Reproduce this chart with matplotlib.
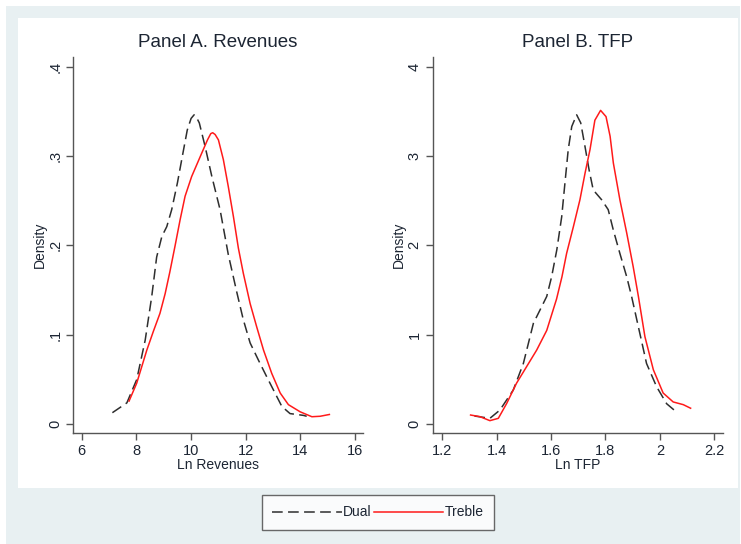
import matplotlib
matplotlib.use("Agg")
import matplotlib.pyplot as plt
from matplotlib.patches import Rectangle
from matplotlib.lines import Line2D

plt.rcParams['font.family'] = ['Liberation Sans', 'DejaVu Sans']

# ---------------- data ----------------
rev_dual_x = [7.12, 7.65, 8.01, 8.32, 8.56, 8.74, 8.93, 9.11, 9.29, 9.50, 9.70, 9.86, 10.00, 10.11,
              10.20, 10.30, 10.51, 10.76, 11.06, 11.36, 11.67, 11.91, 12.16, 12.46, 12.77, 13.07,
              13.32, 13.62, 14.11, 14.23]
rev_dual_y = [0.013, 0.024, 0.050, 0.094, 0.143, 0.187, 0.210, 0.221, 0.240, 0.270, 0.303, 0.329, 0.342, 0.346,
              0.343, 0.337, 0.311, 0.277, 0.240, 0.190, 0.148, 0.117, 0.091, 0.072, 0.053, 0.035,
              0.020, 0.012, 0.010, 0.009]
rev_treble_x = [7.73, 8.01, 8.38, 8.62, 8.86, 9.05, 9.22, 9.41, 9.60, 9.78, 10.02, 10.33, 10.60, 10.72, 10.79,
                10.88, 11.00, 11.18, 11.36, 11.55, 11.73, 11.91, 12.16, 12.40, 12.65, 12.95, 13.26,
                13.56, 13.99, 14.42, 14.72, 15.06]
rev_treble_y = [0.026, 0.046, 0.083, 0.104, 0.124, 0.146, 0.170, 0.199, 0.229, 0.255, 0.277, 0.299, 0.318, 0.325, 0.326,
                0.324, 0.318, 0.296, 0.266, 0.232, 0.197, 0.169, 0.135, 0.109, 0.083, 0.057, 0.035,
                0.022, 0.014, 0.0085, 0.009, 0.011]

tfp_dual_x = [1.318, 1.375, 1.412, 1.461, 1.498, 1.535, 1.571, 1.584, 1.602, 1.621, 1.639, 1.651, 1.663,
              1.676, 1.694, 1.709, 1.725, 1.740, 1.755, 1.786, 1.810, 1.829, 1.853, 1.878, 1.896,
              1.951, 1.988, 2.025, 2.064]
tfp_dual_y = [0.093, 0.067, 0.16, 0.384, 0.68, 1.13, 1.35, 1.43, 1.65, 1.95, 2.32, 2.70, 3.07,
              3.33, 3.46, 3.37, 3.10, 2.84, 2.62, 2.51, 2.40, 2.17, 1.91, 1.65, 1.43,
              0.68, 0.42, 0.23, 0.13]
tfp_treble_x = [1.304, 1.338, 1.375, 1.406, 1.437, 1.473, 1.510, 1.547, 1.584, 1.620, 1.640, 1.657, 1.682,
                1.706, 1.725, 1.743, 1.761, 1.782, 1.802, 1.817, 1.829, 1.853, 1.878, 1.902, 1.921,
                1.945, 1.976, 2.012, 2.049, 2.086, 2.113]
tfp_treble_y = [0.104, 0.086, 0.041, 0.067, 0.235, 0.46, 0.645, 0.83, 1.05, 1.40, 1.65, 1.91, 2.21,
                2.51, 2.81, 3.07, 3.40, 3.51, 3.44, 3.22, 2.92, 2.51, 2.14, 1.76, 1.43,
                0.98, 0.61, 0.35, 0.25, 0.22, 0.18]

titles = ["Panel A. Revenues", "Panel B. TFP"]
xlabels = ["Ln Revenues", "Ln TFP"]
ylabel = "Density"
rev_xticks = [6, 8, 10, 12, 14, 16]
rev_xticklabels = ["6", "8", "10", "12", "14", "16"]
rev_yticks = [0, 0.1, 0.2, 0.3, 0.4]
rev_yticklabels = ["0", ".1", ".2", ".3", ".4"]
tfp_xticks = [1.2, 1.4, 1.6, 1.8, 2.0, 2.2]
tfp_xticklabels = ["1.2", "1.4", "1.6", "1.8", "2", "2.2"]
tfp_yticks = [0, 1, 2, 3, 4]
tfp_yticklabels = ["0", "1", "2", "3", "4"]
legend_labels = ["Dual", "Treble"]

# ---------------- style ----------------
W, H = 741, 544
BG = '#e8f0f2'
TXT = '#1c2533'
SPINE = '#555555'
DASHC = '#2e2e2e'
RED = '#ff1a1a'
LW = 1.1
DASH = (0, (7, 3.5))

fig = plt.figure(figsize=(W / 100, H / 100), dpi=100)
fig.patch.set_facecolor('white')
fig.patches.append(Rectangle((6 / W, 0), (740 - 6) / W, (H - 6) / H, transform=fig.transFigure,
                             facecolor=BG, edgecolor='none', zorder=-10))
fig.patches.append(Rectangle((18 / W, (H - 488) / H), (737.5 - 18) / W, (488 - 18) / H,
                             transform=fig.transFigure, facecolor='white', edgecolor='none', zorder=-9))

bottom = (H - 433) / H
top = (H - 56.7) / H
axA = fig.add_axes([73.3 / W, bottom, (363 - 73.3) / W, top - bottom])
axB = fig.add_axes([432.7 / W, bottom, (722.7 - 432.7) / W, top - bottom])

panels = [
    (axA, rev_dual_x, rev_dual_y, rev_treble_x, rev_treble_y, rev_xticks, rev_xticklabels,
     rev_yticks, rev_yticklabels, (5.69, 16.29), (-0.0097, 0.411)),
    (axB, tfp_dual_x, tfp_dual_y, tfp_treble_x, tfp_treble_y, tfp_xticks, tfp_xticklabels,
     tfp_yticks, tfp_yticklabels, (1.1647, 2.231), (-0.097, 4.11)),
]

for i, (ax, dx, dy, tx, ty, xt, xtl, yt, ytl, xl, yl) in enumerate(panels):
    ax.set_facecolor('none')
    ax.plot(dx, dy, color=DASHC, lw=LW, linestyle=DASH, solid_joinstyle='round',
            dash_joinstyle='round')
    ax.plot(tx, ty, color=RED, lw=LW, solid_joinstyle='round')
    ax.set_xlim(*xl)
    ax.set_ylim(*yl)
    ax.set_xticks(xt)
    ax.set_xticklabels(xtl)
    ax.set_yticks(yt)
    ax.set_yticklabels(ytl, rotation=90, va='center')
    for s in ['top', 'right']:
        ax.spines[s].set_visible(False)
    for s in ['left', 'bottom']:
        ax.spines[s].set_color(SPINE)
        ax.spines[s].set_linewidth(1.0)
    ax.tick_params(axis='both', direction='out', length=5, width=1.0, color=SPINE,
                   labelsize=10.5, labelcolor=TXT, pad=3)
    ax.set_title(titles[i], fontsize=13.5, color=TXT, pad=7)
    ax.set_xlabel(xlabels[i], fontsize=10, color=TXT, labelpad=0)
    ax.set_ylabel(ylabel, fontsize=10, color=TXT, labelpad=1)

handles = [Line2D([], [], color=DASHC, lw=LW, linestyle=DASH),
           Line2D([], [], color=RED, lw=LW)]
leg = fig.legend(handles, legend_labels, loc='center', bbox_to_anchor=(378 / W, 1 - 512.5 / H),
                 ncol=2, fontsize=10, handlelength=5.0, handletextpad=0.1, columnspacing=0.15,
                 frameon=True, fancybox=False, borderpad=0.75, borderaxespad=0)
leg.get_frame().set_edgecolor('#444444')
leg.get_frame().set_linewidth(1.0)
for t in leg.get_texts():
    t.set_color(TXT)

fig.savefig('out.png', dpi=100, facecolor=fig.get_facecolor())
